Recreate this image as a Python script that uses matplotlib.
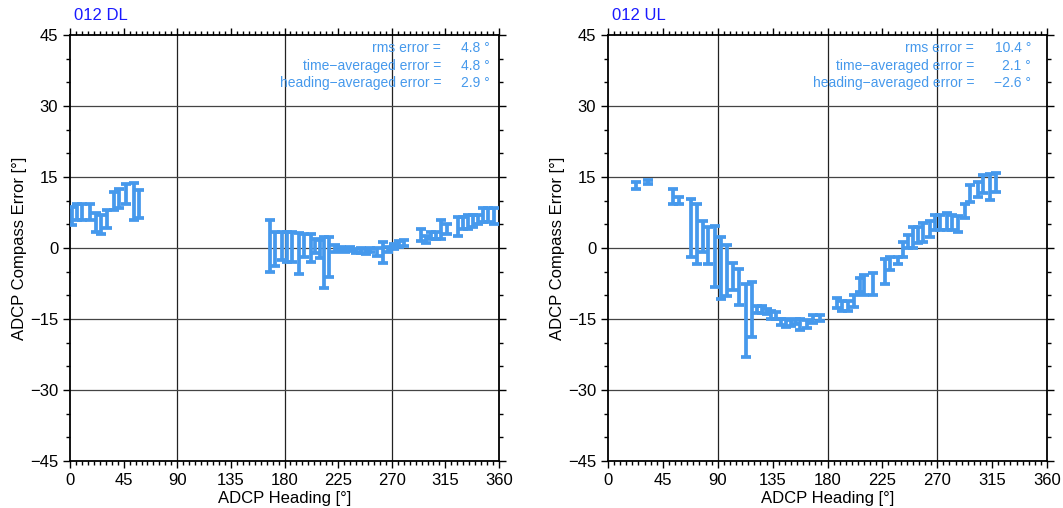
import matplotlib
matplotlib.use('Agg')
import matplotlib.pyplot as plt
from matplotlib.ticker import MultipleLocator

plt.rcParams['font.family'] = ['Liberation Sans', 'DejaVu Sans']

# heading bin, lower and upper compass error (deg)
dl_heading = [1.8, 5.7, 10.3, 16.4, 22, 26.2, 30.9, 36.8, 41, 47.2, 53.4, 57.8,
              167.6, 171.8, 178.3, 181.7, 185.9, 192.3, 196.2, 202.1, 205.5, 209.7, 213, 217.5,
              222.3, 227, 231, 235, 240, 244, 248, 252, 257.3, 262.4, 267, 272, 276, 280,
              294.5, 298.7, 303, 307, 311.3, 316.4, 325.6, 329.8, 334, 338.2, 342.4, 346.6,
              350.8, 355.9]
dl_low = [4.9, 5.9, 5.9, 5.9, 3.4, 3.0, 4.2, 8.0, 8.4, 9.4, 5.9, 6.3,
          -5.0, -3.9, -2.5, -2.9, -2.9, -5.5, -2.0, -2.9, -1.1, -2.2, -8.5, -6.1,
          -0.8, -0.4, -0.8, -0.6, -1.0, -1.0, -1.3, -0.9, -1.6, -3.2, -0.8, -0.3, 0.2, 0.5,
          1.5, 1.0, 2.0, 2.0, 2.0, 3.0, 2.5, 4.0, 4.0, 4.5, 5.0, 5.5,
          5.5, 5.0]
dl_high = [8.7, 9.2, 9.2, 9.4, 7.3, 7.0, 8.0, 11.9, 12.4, 13.5, 13.8, 12.3,
           5.9, 3.4, 3.4, 3.4, 3.3, 3.1, 3.0, 3.0, 1.9, 1.7, 2.4, 2.3,
           0.6, 0.3, 0.1, 0.2, -0.2, 0.0, -0.3, 0.1, 0.0, 1.3, 0.2, 0.8, 1.4, 1.7,
           4.0, 2.5, 3.3, 3.3, 6.0, 5.0, 6.5, 6.5, 7.0, 7.0, 7.0, 8.5,
           8.5, 8.5]

ul_heading = [22.7, 32.8, 52.9, 58, 67.7, 72.6, 78, 82.1, 87.6, 92.5, 97.7, 102.6, 107.6,
              112.8, 117.7, 121.8, 126, 130, 134, 138, 142, 146, 150, 154, 157.4, 162.9,
              168, 173.6, 187.5, 191.6, 196.8, 201.7, 206.8, 210.2, 217.1, 227.2, 231.3,
              238.1, 242.2, 246.3, 250.4, 254.5, 258.6, 264.1, 268.2, 272.3, 277.8, 282.2,
              287.4, 292.9, 297, 303.8, 307.9, 313.4, 318.1]
ul_low = [12.5, 13.5, 9.4, 9.4, -2.0, -3.4, -0.8, -3.4, -8.2, -10.8, -10.1, -8.9, -12.0,
          -23.1, -18.7, -13.7, -13.8, -14.0, -14.9, -14.9, -16.3, -16.6, -16.4, -16.0, -17.3, -17.0,
          -15.8, -15.5, -12.7, -13.4, -13.4, -12.4, -9.2, -9.9, -9.9, -7.6, -4.6,
          -3.4, -1.8, -0.1, 0.1, 1.0, 1.2, 2.4, 3.8, 3.8, 3.8, 3.8,
          3.4, 6.3, 9.8, 10.8, 11.6, 10.1, 11.9]
ul_high = [14.0, 14.4, 12.5, 10.8, 10.4, 9.3, 5.6, 4.5, 4.6, 2.4, 0.6, -3.2, -4.5,
           -7.6, -7.1, -12.3, -12.3, -12.8, -13.4, -13.6, -15.0, -15.1, -15.2, -15.0, -15.0, -15.3,
           -14.2, -14.2, -10.6, -11.3, -11.3, -9.9, -6.4, -5.6, -5.2, -2.4, -1.8,
           -1.8, 1.3, 2.7, 4.5, 4.5, 5.2, 5.8, 7.0, 7.0, 7.3, 7.0,
           6.8, 9.4, 13.3, 14.0, 15.4, 15.6, 15.9]

titles = ['012 DL', '012 UL']
stat_names = ['rms error =', 'time\u2212averaged error =', 'heading\u2212averaged error =']
dl_stats = ['4.8 \u00b0', '4.8 \u00b0', '2.9 \u00b0']
ul_stats = ['10.4 \u00b0', '2.1 \u00b0', '\u22122.6 \u00b0']

bar_color = '#4699ec'

fig = plt.figure(figsize=(10.63, 5.08), dpi=100)
ax1 = fig.add_axes([70 / 1063, 47 / 508, 429 / 1063, 426 / 508])
ax2 = fig.add_axes([608 / 1063, 47 / 508, 439 / 1063, 426 / 508])

panels = [
    (ax1, dl_heading, dl_low, dl_high, titles[0], dl_stats, 0.865, 0.979),
    (ax2, ul_heading, ul_low, ul_high, titles[1], ul_stats, 0.834, 0.964),
]

for ax, hd, lo, hi, title, stats, xlab, xval in panels:
    mid = [(a + b) / 2 for a, b in zip(lo, hi)]
    half = [(b - a) / 2 for a, b in zip(lo, hi)]
    # grid lines only at 90 deg / 15 deg steps
    for g in [90, 180, 270]:
        ax.axvline(g, color='#222222', lw=0.9, zorder=1)
    for g in [-30, -15, 0, 15, 30]:
        ax.axhline(g, color='#444444', lw=0.9, zorder=1)
    ax.errorbar(hd, mid, yerr=half, fmt='none', ecolor=bar_color, elinewidth=2.7,
                capsize=3.6, capthick=2.7, zorder=3)

    ax.set_xlim(0, 360)
    ax.set_ylim(-45, 45)
    ax.xaxis.set_major_locator(MultipleLocator(45))
    ax.xaxis.set_minor_locator(MultipleLocator(5))
    ax.yaxis.set_major_locator(MultipleLocator(15))
    ax.yaxis.set_minor_locator(MultipleLocator(5))
    ax.tick_params(which='both', top=True, right=True, direction='out', labelsize=12, width=1)
    ax.tick_params(which='major', length=5)
    ax.tick_params(which='minor', length=3)
    for s in ax.spines.values():
        s.set_linewidth(1.3)

    ax.set_xlabel('ADCP Heading [\u00b0]', fontsize=12, labelpad=2)
    ax.set_ylabel('ADCP Compass Error [\u00b0]', fontsize=12, labelpad=2)
    ax.text(0.01, 1.028, title, transform=ax.transAxes, color='#1a1aff', fontsize=12,
            ha='left', va='bottom')

    for i in range(3):
        yy = 0.969 - i * 0.041
        ax.text(xlab, yy, stat_names[i], transform=ax.transAxes, color=bar_color,
                fontsize=10, ha='right', va='center')
        ax.text(xval, yy, stats[i], transform=ax.transAxes, color=bar_color,
                fontsize=10, ha='right', va='center')

plt.savefig('out.png', dpi=100)
